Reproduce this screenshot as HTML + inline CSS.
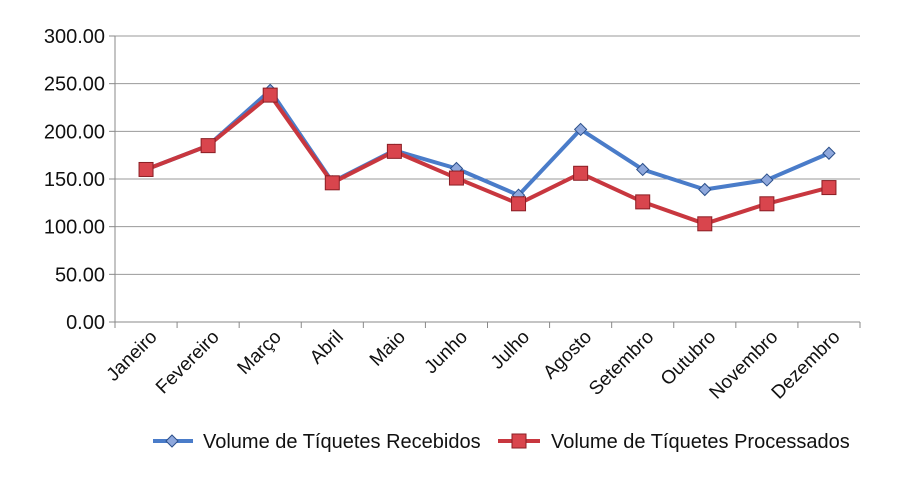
<!DOCTYPE html>
<html><head><meta charset="utf-8"><style>
body{margin:0;background:#fff;}
svg text{font-family:"Liberation Sans",sans-serif;fill:#111;}
</style></head><body>
<svg id="chart" width="913" height="474" xmlns="http://www.w3.org/2000/svg"></svg>
<script>
const categories=["Janeiro","Fevereiro","Março","Abril","Maio","Junho","Julho","Agosto","Setembro","Outubro","Novembro","Dezembro"];
const recebidos=[160,185,243,147,180,161,133,202,160,139,149,177];
const processados=[160,185,238,146,179,151,124,156,126,103,124,141];
const yTicks=[0,50,100,150,200,250,300];
const yTickLabels=["0.00","50.00","100.00","150.00","200.00","250.00","300.00"];
const NS="http://www.w3.org/2000/svg";
const svg=document.getElementById('chart');
const L=115,R=860,T=36,B=322,yMax=300;
const step=(R-L)/categories.length;
const xs=i=>L+step*(i+0.5);
const ys=v=>B-(v/yMax)*(B-T);
function mk(tag,attrs,parent){const e=document.createElementNS(NS,tag);for(const k in attrs)e.setAttribute(k,attrs[k]);(parent||svg).appendChild(e);return e;}
yTicks.forEach((t,i)=>{
  const g=mk('line',{x1:L,x2:R,y1:ys(t),y2:ys(t),stroke:t===0?'#888':'#999','stroke-width':1});
  
  
  mk('line',{x1:L-6,x2:L,y1:ys(t),y2:ys(t),stroke:'#888'});
  const tx=mk('text',{x:L-10,y:ys(t)+7,'text-anchor':'end','font-size':20});
  tx.textContent=yTickLabels[i];
  
  
});
mk('line',{x1:L,x2:L,y1:T,y2:B,stroke:'#888'});
categories.forEach((c,i)=>{
  mk('line',{x1:L+step*i,x2:L+step*i,y1:B,y2:B+6,stroke:'#888'});
  const x=xs(i)+12,y=B+16;
  const tx=mk('text',{x:x,y:y,'text-anchor':'end','font-size':19,transform:`rotate(-45 ${x} ${y})`});
  tx.textContent=c;
  
  
});
mk('line',{x1:R,x2:R,y1:B,y2:B+6,stroke:'#888'});
function series(vals,color,marker,mcolor,name){
  const p=mk('polyline',{points:vals.map((v,i)=>xs(i)+','+ys(v)).join(' '),fill:'none',stroke:color,'stroke-width':4,'stroke-linejoin':'round'});
  
  
  vals.forEach((v,i)=>{
    let m;const x=xs(i),y=ys(v);
    if(marker==='diamond')m=mk('polygon',{points:`${x},${y-6} ${x+6},${y} ${x},${y+6} ${x-6},${y}`,fill:mcolor,stroke:'#2b4f8a','stroke-width':1});
    else m=mk('rect',{x:x-7,y:y-7,width:14,height:14,fill:mcolor,stroke:'#8a1e24','stroke-width':1});
    
    
  });
}
series(recebidos,'#4a7cc9','diamond','#8fa8dc','recebidos');
series(processados,'#c8373f','square','#d9454d','processados');
let l1=mk('line',{x1:153,x2:193,y1:441,y2:441,stroke:'#4a7cc9','stroke-width':4});


mk('polygon',{points:'172,435 178,441 172,447 166,441',fill:'#8fa8dc',stroke:'#2b4f8a'});
let t1=mk('text',{x:203,y:448,'font-size':20});t1.textContent='Volume de Tíquetes Recebidos';


let l2=mk('line',{x1:498,x2:540,y1:441,y2:441,stroke:'#c8373f','stroke-width':4});


mk('rect',{x:512,y:434,width:14,height:14,fill:'#d9454d',stroke:'#8a1e24'});
let t2=mk('text',{x:551,y:448,'font-size':20});t2.textContent='Volume de Tíquetes Processados';


</script>
</body></html>
